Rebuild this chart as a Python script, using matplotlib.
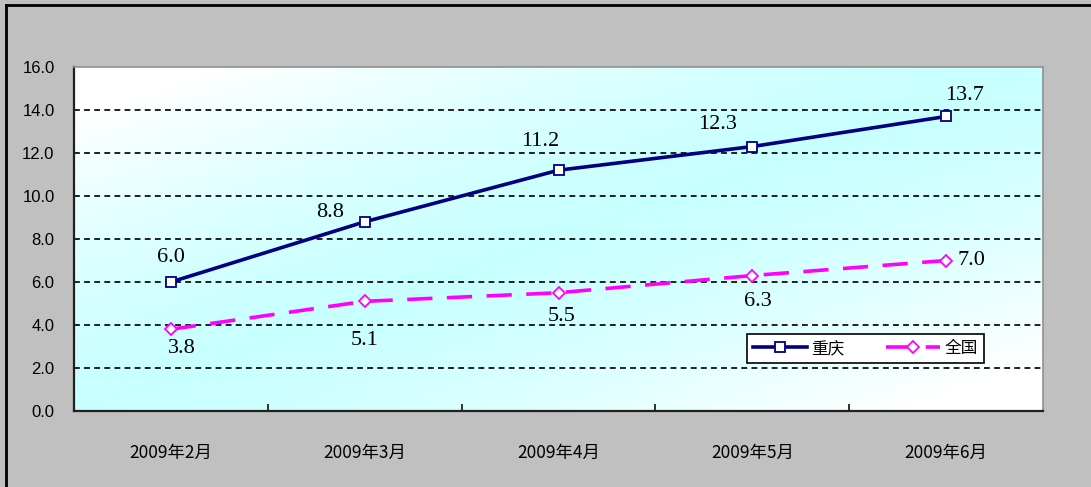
import numpy as np
import matplotlib
matplotlib.use("Agg")
import matplotlib.pyplot as plt
from matplotlib.lines import Line2D
from matplotlib.colors import LinearSegmentedColormap

plt.rcParams['font.family'] = ['Noto Sans CJK SC', 'DejaVu Sans']

months = ['2009年2月', '2009年3月', '2009年4月', '2009年5月', '2009年6月']
chongqing = [6.0, 8.8, 11.2, 12.3, 13.7]
national = [3.8, 5.1, 5.5, 6.3, 7.0]
series_names = ['重庆', '全国']

# label offsets in points (Excel style placement)
cq_offsets = [(0, 18), (-25, 7), (-13, 21), (-25, 16), (13, 15)]
nat_offsets = [(8, -14), (0, -28), (2, -17), (4, -19), (18, 0)]

fig = plt.figure(figsize=(10.91, 4.87), dpi=100, facecolor='#c0c0c0')
ax = fig.add_axes([74/1091, 1-411/487, 969/1091, 344/487])

# diagonal cyan/white fill of the plot area
u, v = np.meshgrid(np.linspace(0, 1, 300), np.linspace(0, 1, 300))
t = np.abs(u - v) ** 1.4
cmap = LinearSegmentedColormap.from_list('bg', ['#c8ffff', '#ffffff'])
ax.imshow(t, cmap=cmap, extent=[0, 1, 0, 1], origin='lower',
          transform=ax.transAxes, aspect='auto', zorder=0, vmin=0, vmax=0.8)

x = np.arange(len(months))
ax.set_xlim(-0.5, len(months) - 0.5)
ax.set_ylim(0, 16)

for yv in np.arange(2, 16, 2):
    ax.axhline(yv, color='#202020', lw=1.4, ls=(0, (3, 2.2)), zorder=1)

ax.plot(x, chongqing, color='#000080', lw=2.6, marker='s', ms=6.5,
        mfc='white', mec='#000080', mew=1.3, label=series_names[0], zorder=3)
ax.plot(x, national, color='#ff00ff', lw=2.6, ls=(0, (7, 4)), marker='D', ms=6,
        mfc='white', mec='#ff00ff', mew=1.3, label=series_names[1], zorder=3)

for xi, val, off in zip(x, chongqing, cq_offsets):
    ax.annotate(f'{val:.1f}', (xi, val), xytext=off, textcoords='offset points',
                ha='center', va='center', fontsize=16, family='Liberation Serif')
for xi, val, off in zip(x, national, nat_offsets):
    ax.annotate(f'{val:.1f}', (xi, val), xytext=off, textcoords='offset points',
                ha='center', va='center', fontsize=16, family='Liberation Serif')

ax.set_yticks(np.arange(0, 17, 2))
ax.set_yticklabels([f'{v:.1f}' for v in np.arange(0, 17, 2)],
                   fontsize=12, family='Liberation Sans')
ax.tick_params(axis='y', length=0, pad=14)
ax.set_xticks(x)
ax.set_xticklabels(months, fontsize=12.5)
ax.tick_params(axis='x', which='major', length=0, pad=24)
ax.set_xticks(np.arange(0.5, len(months) - 1, 1), minor=True)
ax.tick_params(axis='x', which='minor', direction='in', length=5, width=1.3, color='#202020')

for side in ['left', 'bottom']:
    ax.spines[side].set_color('#202020')
    ax.spines[side].set_linewidth(1.6)
for side in ['top', 'right']:
    ax.spines[side].set_color('#909090')
    ax.spines[side].set_linewidth(1.2)

leg = ax.legend(loc='lower right', bbox_to_anchor=(0.939, 0.14), ncol=2,
                frameon=True, fancybox=False, borderaxespad=0, fontsize=12,
                handlelength=3.2, columnspacing=2.5, borderpad=0.35,
                handletextpad=0.3)
leg.get_frame().set_edgecolor('black')
leg.get_frame().set_linewidth(1.2)
leg.get_frame().set_alpha(1)

# outer frame along the top and left edges
fig.add_artist(Line2D([6/1091, 1], [1-5/487, 1-5/487], color='black', lw=2,
                      transform=fig.transFigure))
fig.add_artist(Line2D([6/1091, 6/1091], [0, 1-5/487], color='black', lw=2,
                      transform=fig.transFigure))

fig.savefig('out.png', dpi=100, facecolor=fig.get_facecolor())
